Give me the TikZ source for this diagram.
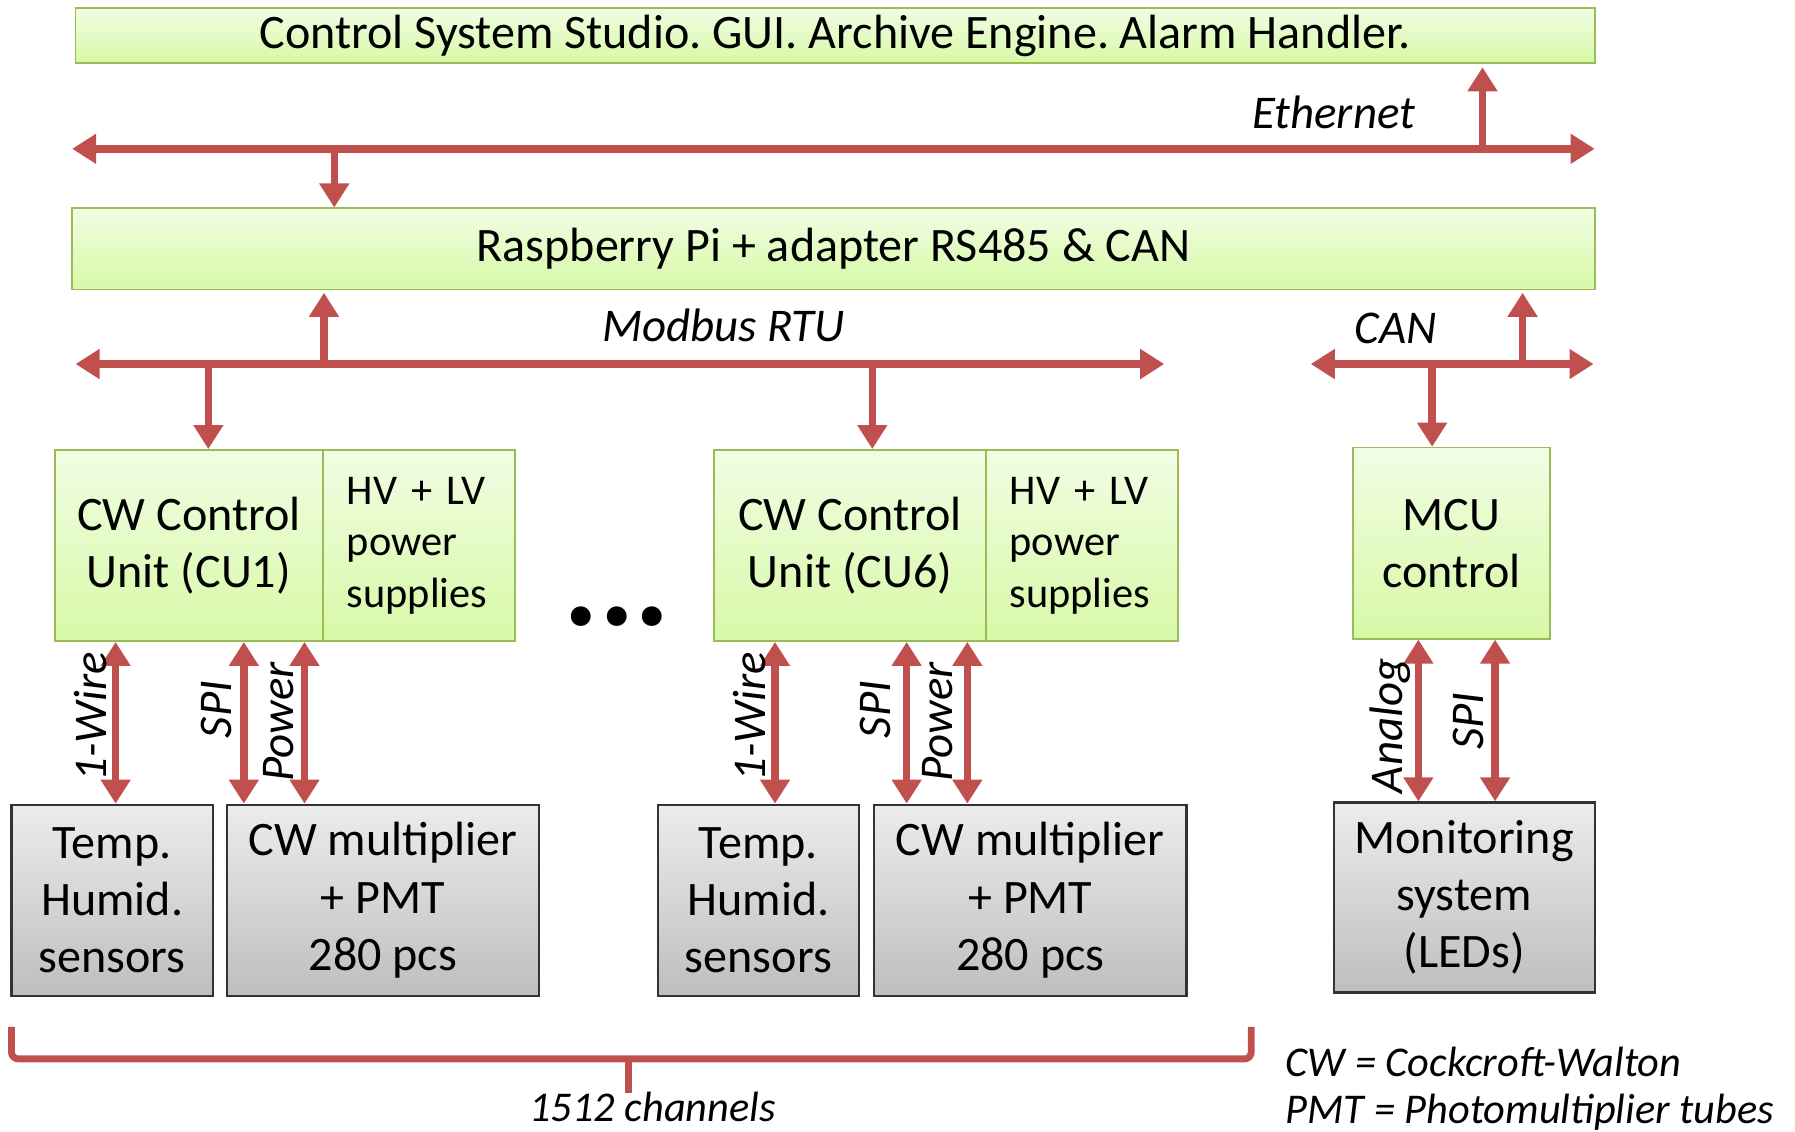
\documentclass[tikz,border=0pt]{standalone}
\usepackage{fontspec}
\setmainfont{Carlito}
\usetikzlibrary{positioning,arrows.meta}
\frenchspacing
\definecolor{busred}{RGB}{192,80,77}
\definecolor{boxgreen}{RGB}{155,187,89}
\definecolor{greentop}{RGB}{241,253,228}
\definecolor{greenbot}{RGB}{215,249,166}
\definecolor{graytop}{RGB}{236,236,236}
\definecolor{graybot}{RGB}{190,190,190}
\tikzstyle{block} = [rectangle, draw=boxgreen, line width=1.5pt, top color=greentop,
    bottom color=greenbot, inner sep=0pt, align=center, font=\fontsize{42}{50}\selectfont]
\tikzstyle{supply} = [block, align=left, text width=126pt, inner xsep=21pt,
    minimum height=167pt, font=\fontsize{37}{45}\selectfont]
\tikzstyle{device} = [rectangle, draw=black!80, line width=2pt, top color=graytop,
    bottom color=graybot, inner sep=0pt, align=center, minimum height=167pt,
    font=\fontsize{42}{50}\selectfont]
\tikzstyle{feed} = [busred, line width=6.5pt, -{Triangle[length=21pt,width=25pt]}]
\tikzstyle{bus} = [busred, line width=6.5pt,
    {Triangle[length=21pt,width=25pt]}-{Triangle[length=21pt,width=25pt]}]
\tikzstyle{buslabel} = [inner sep=0pt, font=\fontsize{41}{46}\selectfont\itshape]
\tikzstyle{note} = [inner sep=0pt, font=\fontsize{37}{42}\selectfont\itshape]
\tikzstyle{brace} = [busred, line width=6pt, rounded corners=6pt]

\begin{document}
\begin{tikzpicture}[x=1pt, y=-1pt]
        \useasboundingbox (0,0) rectangle (1568,988);
        % Place nodes
        \node [block, minimum width=1327pt, minimum height=48pt] (css) at (729.5,31) {Control System Studio. GUI. Archive Engine. Alarm Handler.};
        \node [block, minimum width=1330pt, minimum height=71pt] (rpi) at (728,217.5) {Raspberry Pi + adapter RS485 \& CAN};
        \node [block, minimum width=234pt, minimum height=167pt] (cu1) at (165,476.5) {CW Control\\Unit (CU1)};
        \node [supply, right=-1.5pt of cu1] (hv1) {HV + LV\\power\\supplies};
        \node [block, minimum width=237pt, minimum height=167pt] (cu6) at (742.5,476.5) {CW Control\\Unit (CU6)};
        \node [supply, right=-1.5pt of cu6] (hv6) {HV + LV\\power\\supplies};
        \node [block, minimum width=172pt, minimum height=167pt] (mcu) at (1268,474.5) {MCU\\control};
        \node [anchor=base, inner sep=0pt, font=\bfseries\fontsize{116}{116}\selectfont] (dots) at (539,546) {...};
        \node [device, minimum width=176pt] (temp1) at (98,786.5) {Temp.\\Humid.\\sensors};
        \node [device, minimum width=273pt, right=10pt of temp1] (pmt1) {CW multiplier\\+ PMT\\280 pcs};
        \node [device, minimum width=176pt] (temp6) at (662.5,786.5) {Temp.\\Humid.\\sensors};
        \node [device, minimum width=273pt, right=11pt of temp6] (pmt6) {CW multiplier\\+ PMT\\280 pcs};
        \node [device, minimum width=228pt, minimum height=166pt] (leds) at (1279,784) {Monitoring\\system\\(LEDs)};
        % Bus coordinates
        \coordinate (ethW) at (63,130);
        \coordinate (ethE) at (1393,130);
        \coordinate (ethA) at (292,130);
        \coordinate (ethB) at (1295,130);
        \coordinate (mbW) at (66,318);
        \coordinate (mbE) at (1017,318);
        \coordinate (mbA) at (283,318);
        \coordinate (mbB) at (182,318);
        \coordinate (mbC) at (762,318);
        \coordinate (canW) at (1145,318);
        \coordinate (canE) at (1392,318);
        \coordinate (canA) at (1330,318);
        \coordinate (canB) at (1251,318);
        \coordinate (w1) at (101,0);
        \coordinate (s1) at (213,0);
        \coordinate (p1) at (266,0);
        \coordinate (w6) at (677,0);
        \coordinate (s6) at (792,0);
        \coordinate (p6) at (845,0);
        \coordinate (am) at (1239,0);
        \coordinate (sm) at (1306,0);
        % Draw edges
        \draw [bus] (ethW) -- (ethE);
        \draw [feed] (ethA) -- (ethA |- rpi.north);
        \draw [feed, shorten >=3pt] (ethB) -- (ethB |- css.south);
        \draw [bus] (mbW) -- (mbE);
        \draw [feed, shorten >=2pt] (mbA) -- (mbA |- rpi.south);
        \draw [feed] (mbB) -- (mbB |- cu1.north);
        \draw [feed] (mbC) -- (mbC |- cu6.north);
        \draw [bus] (canW) -- (canE);
        \draw [feed, shorten >=2pt] (canA) -- (canA |- rpi.south);
        \draw [feed] (canB) -- (canB |- mcu.north);
        \draw [bus] (cu1.south -| w1) -- (temp1.north -| w1);
        \draw [bus] (cu1.south -| s1) -- (pmt1.north -| s1);
        \draw [bus] (cu1.south -| p1) -- (pmt1.north -| p1);
        \draw [bus] (cu6.south -| w6) -- (temp6.north -| w6);
        \draw [bus] (cu6.south -| s6) -- (pmt6.north -| s6);
        \draw [bus] (cu6.south -| p6) -- (pmt6.north -| p6);
        \draw [bus] (mcu.south -| am) -- (leds.north -| am);
        \draw [bus] (mcu.south -| sm) -- (leds.north -| sm);
        % Labels
        \node [buslabel, anchor=base] (eth) at (1165,112) {Ethernet};
        \node [buslabel, anchor=base] (modbus) at (632,298) {Modbus RTU};
        \node [buslabel, anchor=base] (can) at (1219,300) {CAN};
        \node [buslabel, rotate=90, anchor=base west] at (93,683) {1-Wire};
        \node [buslabel, rotate=90, anchor=base west] at (202,645) {SPI};
        \node [buslabel, rotate=90, anchor=base west] at (256,683) {Power};
        \node [buslabel, rotate=90, anchor=base west] at (669,683) {1-Wire};
        \node [buslabel, rotate=90, anchor=base west] at (778,645) {SPI};
        \node [buslabel, rotate=90, anchor=base west] at (832,683) {Power};
        \node [buslabel, rotate=90, anchor=base west] at (1225,693) {Analog};
        \node [buslabel, rotate=90, anchor=base west] at (1296,655) {SPI};
        % Brace
        \coordinate (brL) at (10,897);
        \coordinate (brR) at (1093,897);
        \coordinate (brM) at (549,925);
        \draw [brace] (brL) -- (brL |- brM) -- (brR |- brM) -- (brR);
        \draw [brace] (brM) -- ++(0,30);
        \node [note, anchor=base] (chan) at (570,980) {1512 channels};
        \node [note, anchor=base west] (cw) at (1123,940) {CW = Cockcroft-Walton};
        \node [note, anchor=base west] (pmt) at (1123,981) {PMT = Photomultiplier tubes};
    \end{tikzpicture}
\end{document}
